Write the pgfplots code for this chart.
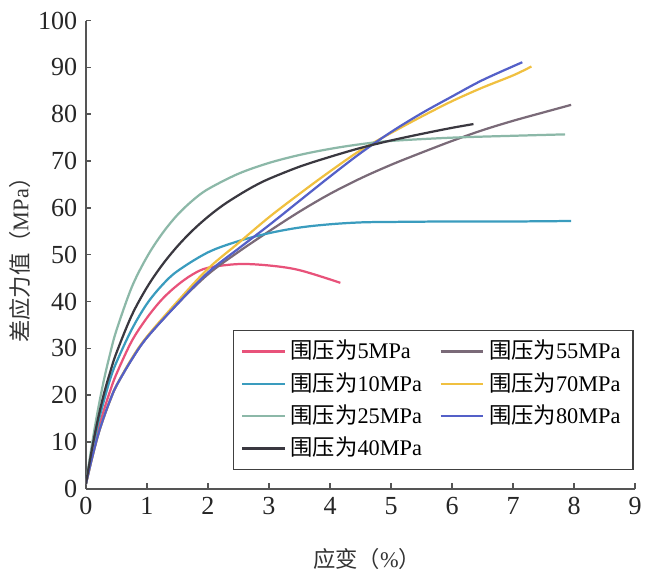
\documentclass[border=0pt]{standalone}
\usepackage{fontspec}
\setmainfont{Liberation Serif}
\newfontfamily\cjk{Noto Sans CJK SC}
\usepackage{pgfplots}
\pgfplotsset{compat=1.18}
\usetikzlibrary{calc}

\definecolor{c5}{RGB}{232,82,122}
\definecolor{c10}{RGB}{58,156,190}
\definecolor{c25}{RGB}{140,184,168}
\definecolor{c40}{RGB}{58,56,64}
\definecolor{c55}{RGB}{122,106,120}
\definecolor{c70}{RGB}{240,192,64}
\definecolor{c80}{RGB}{84,96,200}
\definecolor{axgrey}{RGB}{85,85,85}

\begin{document}
\begin{tikzpicture}
\begin{axis}[
    scale only axis,
    width=221.4pt, height=188.7pt,
    xmin=0, xmax=9, ymin=0, ymax=100,
    xtick={0,1,...,9},
    ytick={0,10,...,100},
    axis x line=bottom, axis y line=left,
    axis line style={-, axgrey, line width=0.6pt},
    tick align=inside,
    major tick length=2.2pt,
    tick style={axgrey, line width=0.6pt},
    ticklabel style={font=\fontsize{10.5}{12}\selectfont, text=black!85},
    /pgf/number format/assume math mode=true,
    xlabel={{\cjk 应变（}\%{\cjk ）}},
    ylabel={{\cjk 差应力值（}MPa{\cjk ）}},
    label style={font=\fontsize{9}{11}\selectfont, text=black!80},
    xlabel style={at={(axis description cs:0.512,-0.15)}, anchor=center},
    ylabel style={at={(axis description cs:-0.12,0.5)}, anchor=center},
    legend columns=2,
    legend cell align=left,
    legend style={at={(0.997,0.34)}, anchor=north east,
        draw=black!75, line width=0.5pt,
        font=\fontsize{9}{10.5}\selectfont,
        inner xsep=3pt, inner ysep=2pt,
        row sep=0pt,
        /tikz/every even column/.append style={column sep=5pt}},
    every axis plot/.append style={line width=0.9pt, smooth, tension=0.55},
]
% 5 MPa
\addplot[c5] coordinates {
(0,1) (0.1,7) (0.2,12.5) (0.3,17) (0.4,21) (0.5,24.5) (0.75,31.5) (1,36.5)
(1.25,40.5) (1.5,43.5) (1.75,45.8) (2,47.2) (2.5,48) (3,47.7) (3.5,46.7) (4.17,44)};
\addlegendentry{{\cjk 围压为}5MPa}
% 55 MPa
\addplot[c55] coordinates {
(0,1) (0.1,6.5) (0.2,11.5) (0.3,15.5) (0.4,19) (0.5,22) (0.75,27.6) (1,32.3)
(1.5,39.5) (2,45.8) (2.5,50.6) (3,55) (3.5,59.2) (4,63) (4.5,66.3) (5,69.2)
(5.5,71.8) (6,74.3) (6.5,76.6) (7,78.6) (7.5,80.4) (7.95,82)};
\addlegendentry{{\cjk 围压为}55MPa}
% 10 MPa
\addplot[c10] coordinates {
(0,1) (0.1,8) (0.2,14) (0.3,19) (0.4,23.5) (0.5,27) (0.75,34) (1,39.5)
(1.25,43.5) (1.5,46.5) (2,50.5) (2.5,52.9) (3,54.6) (3.5,55.8) (4,56.5)
(4.5,56.9) (5,57) (6,57.1) (7,57.1) (7.95,57.2)};
\addlegendentry{{\cjk 围压为}10MPa}
% 70 MPa
\addplot[c70] coordinates {
(0,1) (0.1,6.5) (0.2,11.5) (0.3,15.5) (0.4,19) (0.5,22) (0.75,27.8) (1,32.5)
(1.5,40) (2,47) (2.5,52.5) (3,58) (3.5,63) (4,67.8) (4.5,72.3) (5,76)
(5.5,79.5) (6,82.8) (6.5,85.7) (7,88.3) (7.3,90.2)};
\addlegendentry{{\cjk 围压为}70MPa}
% 25 MPa
\addplot[c25] coordinates {
(0,1) (0.1,9.5) (0.2,17) (0.3,23.5) (0.4,29) (0.5,33.8) (0.75,43) (1,49.5)
(1.25,54.5) (1.5,58.5) (1.75,61.6) (2,64) (2.5,67.3) (3,69.6) (3.5,71.3)
(4,72.6) (4.5,73.6) (5,74.3) (6,75) (7,75.4) (7.85,75.7)};
\addlegendentry{{\cjk 围压为}25MPa}
% 80 MPa
\addplot[c80] coordinates {
(0,1) (0.1,6.5) (0.2,11.5) (0.3,15.5) (0.4,19) (0.5,22) (0.75,27.6) (1,32.3)
(1.5,39.5) (2,46.2) (2.5,51.3) (3,56.3) (3.5,61.5) (4,66.7) (4.5,71.7)
(5,76.2) (5.5,80.2) (6,83.8) (6.5,87.3) (7.15,91.1)};
\addlegendentry{{\cjk 围压为}80MPa}
% 40 MPa
\addplot[c40] coordinates {
(0,1) (0.1,8.5) (0.2,15) (0.3,20.5) (0.4,25) (0.5,29) (0.75,37) (1,43)
(1.25,47.8) (1.5,51.8) (1.75,55.2) (2,58.1) (2.25,60.6) (2.5,62.7) (2.75,64.6)
(3,66.2) (3.5,68.8) (4,70.9) (4.5,72.8) (5,74.4) (5.5,75.8) (6,77.1) (6.35,77.9)};
\addlegendentry{{\cjk 围压为}40MPa}
\end{axis}
% page frame matching the reference proportions
\path ($(current axis.south west)+(-34.6pt,-31pt)$) rectangle ($(current axis.south west)+(225.4pt,197pt)$);
\end{tikzpicture}
\end{document}
